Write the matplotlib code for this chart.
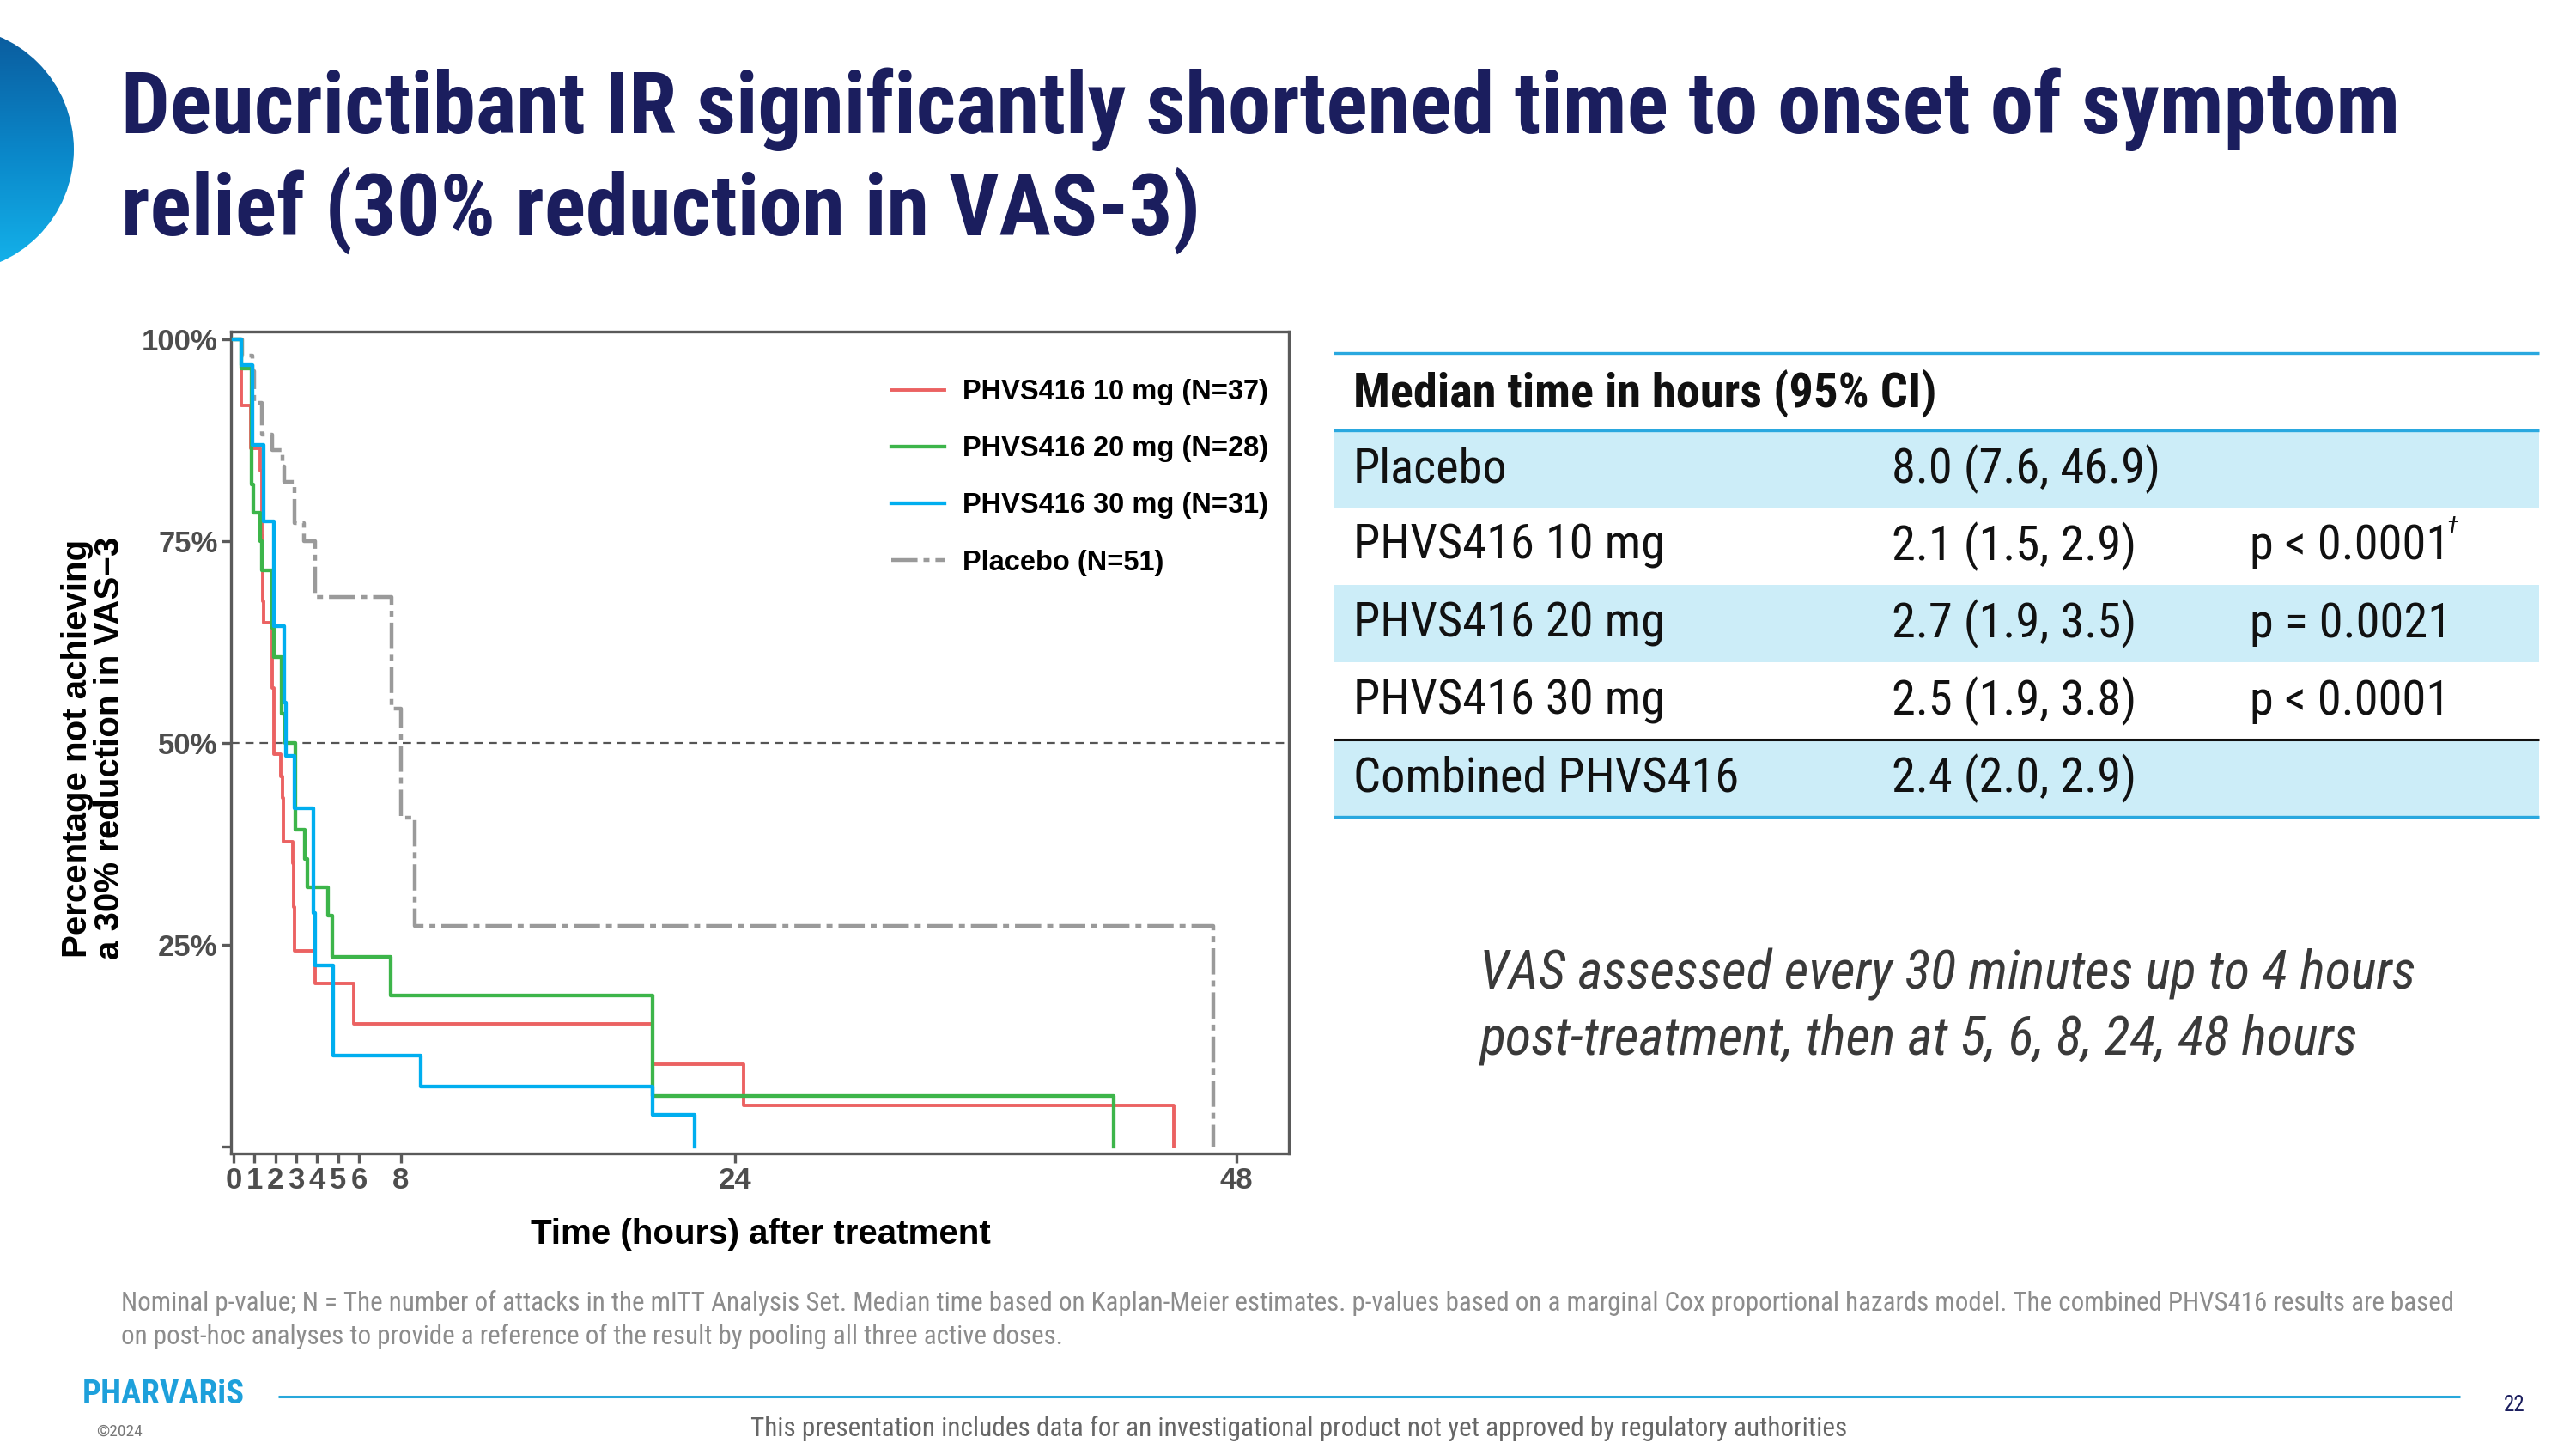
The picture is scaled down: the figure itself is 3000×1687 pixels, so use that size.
import numpy as np
import matplotlib
matplotlib.use("Agg")
import matplotlib.pyplot as plt
from matplotlib.colors import LinearSegmentedColormap
from matplotlib.patches import Circle, Rectangle

# ---------------- data ----------------
group_labels = ["PHVS416 10 mg (N=37)", "PHVS416 20 mg (N=28)",
                "PHVS416 30 mg (N=31)", "Placebo (N=51)"]

t_10mg = [0, 0.37, 0.84, 1.28, 1.36, 1.41, 1.45, 1.87, 1.95, 2.27, 2.35, 2.39, 2.83, 2.88, 2.90, 3.89, 5.75, 20.06, 24.4, 45.0]
s_10mg = [100, 91.9, 86.5, 83.8, 75.7, 67.6, 64.9, 56.8, 48.6, 45.9, 43.2, 37.8, 35.1, 29.7, 24.3, 20.2, 15.2, 10.2, 5.1, 0]

t_20mg = [0, 0.37, 0.88, 0.94, 1.28, 1.37, 1.87, 1.95, 2.32, 2.45, 2.98, 3.42, 3.52, 4.53, 4.72, 7.52, 20.06, 42.1]
s_20mg = [100, 96.4, 82.1, 78.5, 75.0, 71.4, 64.3, 60.7, 53.6, 50.0, 39.3, 35.7, 32.1, 28.6, 23.5, 18.7, 6.3, 0]

t_30mg = [0, 0.37, 0.91, 1.45, 1.92, 2.42, 2.50, 2.92, 3.83, 3.90, 4.78, 8.95, 20.06, 22.06]
s_30mg = [100, 96.8, 87.0, 77.5, 64.5, 55.0, 48.4, 41.9, 29.0, 22.5, 11.3, 7.5, 3.9, 0]

t_pbo = [0, 0.40, 0.91, 0.97, 1.36, 1.87, 2.36, 2.43, 2.90, 3.38, 3.90, 7.55, 8.00, 8.66, 46.9]
s_pbo = [100, 98.0, 96.1, 92.2, 88.2, 86.3, 84.3, 82.4, 77.3, 75.0, 68.1, 54.3, 40.8, 27.3, 0]

x_ticks = [0, 1, 2, 3, 4, 5, 6, 8, 24, 48]
x_tick_labels = ["0", "1", "2", "3", "4", "5", "6", "8", "24", "48"]
y_ticks = [0, 25, 50, 75, 100]
y_tick_labels = ["", "25%", "50%", "75%", "100%"]

table_header = "Median time in hours (95% CI)"
table_rows = ["Placebo", "PHVS416 10 mg", "PHVS416 20 mg", "PHVS416 30 mg", "Combined PHVS416"]
table_median = ["8.0 (7.6, 46.9)", "2.1 (1.5, 2.9)", "2.7 (1.9, 3.5)", "2.5 (1.9, 3.8)", "2.4 (2.0, 2.9)"]
table_p = ["", "p < 0.0001", "p = 0.0021", "p < 0.0001", ""]
table_p_mark = ["", "\u2020", "", "", ""]

title_lines = ["Deucrictibant IR significantly shortened time to onset of symptom",
               "relief (30% reduction in VAS-3)"]
note_lines = ["VAS assessed every 30 minutes up to 4 hours",
              "post-treatment, then at 5, 6, 8, 24, 48 hours"]
foot_lines = ["Nominal p-value; N = The number of attacks in the mITT Analysis Set. Median time based on Kaplan-Meier estimates. "
              "p-values based on a marginal Cox proportional hazards model. The combined PHVS416 results are based",
              "on post-hoc analyses to provide a reference of the result by pooling all three active doses."]

# ---------------- style ----------------
plt.rcParams["lines.scale_dashes"] = False
NARROW = ["Liberation Sans Narrow", "Roboto Condensed", "Roboto", "DejaVu Sans"]
ARIAL = ["Liberation Sans", "Arial", "DejaVu Sans"]
NAVY = "#1B1E5E"
RED, GREEN, BLUE, GREY = "#EB6262", "#3DB54A", "#00AEEF", "#9A9A9A"
AXGREY = "#5A5A5A"

W, H = 3000, 1687
fig = plt.figure(figsize=(W / 100, H / 100), dpi=100)
fig.patch.set_facecolor("white")

# background "slide" axes in pixel coordinates
bg = fig.add_axes([0, 0, 1, 1], zorder=0)
bg.set_xlim(0, W)
bg.set_ylim(H, 0)
bg.axis("off")

renderer = fig.canvas.get_renderer()


def fit_width(t, target):
    for _ in range(3):
        w = t.get_window_extent(renderer).width
        t.set_fontsize(t.get_fontsize() * target / w)
    return t.get_fontsize()


# blue gradient half-circle at the top left
cx, cy, R = -57, 174, 143
cmap = LinearSegmentedColormap.from_list("arc", ["#0B5A9C", "#0A86C8", "#14B4EC"])
grad = np.linspace(0, 1, 256).reshape(-1, 1)
im = bg.imshow(grad, extent=(cx - R, cx + R, cy + R, cy - R), cmap=cmap,
               aspect="auto", origin="upper", zorder=1)
circ = Circle((cx, cy), R, transform=bg.transData, facecolor="none", edgecolor="none")
bg.add_patch(circ)
im.set_clip_path(circ)
bg.set_xlim(0, W)
bg.set_ylim(H, 0)

# title
t1 = bg.text(141, 155, title_lines[0], family=NARROW, weight="bold", color=NAVY,
             fontsize=73, ha="left", va="baseline")
fs_title = fit_width(t1, 2654)
bg.text(141, 274, title_lines[1], family=NARROW, weight="bold", color=NAVY,
        fontsize=fs_title, ha="left", va="baseline")

# ---------------- table ----------------
TX0, TX1 = 1553, 2957
BAND = "#CCEDF8"
LBLUE = "#2AA8DF"
row_top = [501, 591, 681, 771, 861]
row_h = 90
for i, top in enumerate(row_top):
    if i % 2 == 0:
        bg.add_patch(Rectangle((TX0, top), TX1 - TX0, row_h, facecolor=BAND,
                               edgecolor="none", zorder=1))
bg.plot([TX0, TX1], [411, 411], color=LBLUE, lw=2.4, zorder=2, solid_capstyle="butt")
bg.plot([TX0, TX1], [501, 501], color=LBLUE, lw=2.4, zorder=2, solid_capstyle="butt")
bg.plot([TX0, TX1], [861, 861], color="#111111", lw=2.2, zorder=2, solid_capstyle="butt")
bg.plot([TX0, TX1], [951, 951], color=LBLUE, lw=2.4, zorder=2, solid_capstyle="butt")

th = bg.text(1576, 459, table_header, family=NARROW, weight="bold", color="#111111",
             fontsize=42, ha="left", va="center", zorder=3)
fit_width(th, 679)

probe = bg.text(0, 0, "PHVS416 10 mg", family=NARROW, fontsize=42)
fs_tab = fit_width(probe, 363)
probe.remove()

for i, top in enumerate(row_top):
    yc = top + row_h / 2
    bg.text(1576, yc, table_rows[i], family=NARROW, color="#111111", fontsize=fs_tab,
            ha="left", va="center", zorder=3)
    bg.text(2203, yc, table_median[i], family=NARROW, color="#111111", fontsize=fs_tab,
            ha="left", va="center", zorder=3)
    if table_p[i]:
        tp = bg.text(2620, yc, table_p[i], family=NARROW, color="#111111", fontsize=fs_tab,
                     ha="left", va="center", zorder=3)
        if table_p_mark[i]:
            ext = tp.get_window_extent(renderer)
            bg.text(ext.x1 - 4, yc - 22, table_p_mark[i], family=NARROW, style="italic",
                    color="#111111", fontsize=fs_tab * 0.5, ha="left", va="center", zorder=3)

# italic note
n1 = bg.text(1723, 1134, note_lines[0], family=NARROW, style="italic", color="#3A3A3A",
             fontsize=40, ha="left", va="center")
fs_note = fit_width(n1, 1091)
bg.text(1723, 1210, note_lines[1], family=NARROW, style="italic", color="#3A3A3A",
        fontsize=fs_note, ha="left", va="center")

# footnotes
f1 = bg.text(141, 1517, foot_lines[0], family=NARROW, color="#8C8C8C",
             fontsize=18, ha="left", va="center")
fs_foot = fit_width(f1, 2722)
bg.text(141, 1556, foot_lines[1], family=NARROW, color="#8C8C8C",
        fontsize=fs_foot, ha="left", va="center")

# footer
bg.plot([324, 2865], [1626, 1626], color="#29A8DB", lw=2.2, solid_capstyle="butt")
lg = bg.text(96, 1624, "PHARVARiS", family=NARROW, weight="bold", color="#1EA0DB",
             fontsize=22, ha="left", va="center")
fit_width(lg, 189)
bg.text(112, 1667, "\u00a92024", family=NARROW, color="#777777", fontsize=14,
        ha="left", va="center")
d = bg.text(1513, 1663, "This presentation includes data for an investigational product not yet approved by regulatory authorities",
            family=NARROW, color="#666666", fontsize=20, ha="center", va="center")
fit_width(d, 1279)
bg.text(2928, 1636, "22", family=NARROW, color=NAVY, fontsize=18, ha="center", va="center")

# ---------------- KM chart ----------------
ax = fig.add_axes([269 / W, 1 - 1343 / H, (1501 - 269) / W, (1343 - 386) / H], zorder=2)
ax.set_facecolor("white")

ax.axhline(50, color="#555555", lw=1.6, dashes=(7, 5), zorder=1)

l_pbo, = ax.step(t_pbo, s_pbo, where="post", color=GREY, lw=3.2, zorder=2)
l_pbo.set_dashes((22, 5, 5, 5))
l_10, = ax.step(t_10mg, s_10mg, where="post", color=RED, lw=2.8, zorder=3)
l_20, = ax.step(t_20mg, s_20mg, where="post", color=GREEN, lw=3.1, zorder=4)
l_30, = ax.step(t_30mg, s_30mg, where="post", color=BLUE, lw=3.1, zorder=5)

ax.set_xlim(-0.12, 50.5)
ax.set_ylim(-0.85, 101)
ax.set_xticks(x_ticks)
ax.set_xticklabels(x_tick_labels)
ax.set_yticks(y_ticks)
ax.set_yticklabels(y_tick_labels)
for sp in ax.spines.values():
    sp.set_color(AXGREY)
    sp.set_linewidth(2.4)
ax.tick_params(axis="both", direction="out", length=8, width=2.4, color=AXGREY,
               labelcolor="#4D4D4D", labelsize=25, pad=3)
for lab in ax.get_xticklabels() + ax.get_yticklabels():
    lab.set_family(ARIAL)
    lab.set_weight("bold")

ax.set_xlabel("Time (hours) after treatment", family=ARIAL, weight="bold",
              fontsize=29, color="black")
ax.xaxis.set_label_coords((886 - 269) / (1501 - 269), -(1437 - 1343) / (1343 - 386))
ax.xaxis.label.set_va("center")
ax.set_ylabel("Percentage not achieving\na 30% reduction in VAS\u22123", family=ARIAL,
              weight="bold", fontsize=29, color="black", linespacing=1.0)
ax.yaxis.set_label_coords(-(269 - 109) / (1501 - 269), (1343 - 871) / (1343 - 386))
ax.yaxis.label.set_va("center")

leg = ax.legend([l_10, l_20, l_30, l_pbo], group_labels, loc="upper left",
                bbox_to_anchor=(1038 / W, 1 - 441 / H), bbox_transform=fig.transFigure,
                frameon=False, borderpad=0, borderaxespad=0, handlelength=1.9,
                handletextpad=0.64, labelspacing=1.08,
                prop={"family": ARIAL, "weight": "bold", "size": 23.5})
for txt in leg.get_texts():
    txt.set_color("black")

fig.savefig("out.png", dpi=100, facecolor="white")
